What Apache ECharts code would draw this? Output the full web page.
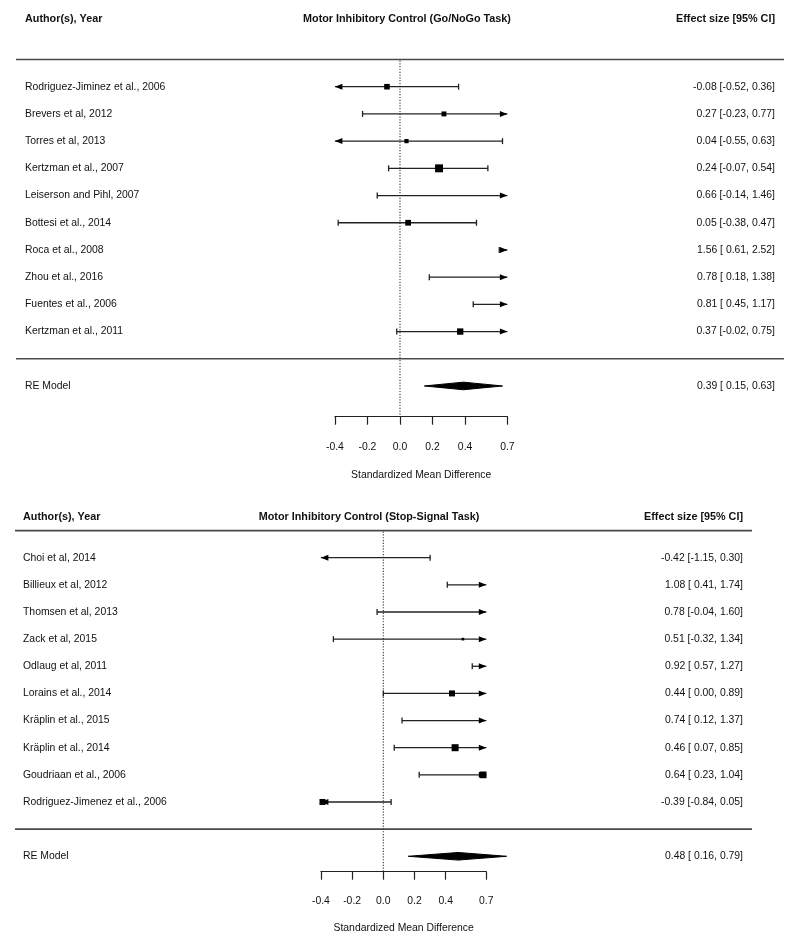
<!DOCTYPE html>
<html><head><meta charset="utf-8">
<script src="https://cdn.jsdelivr.net/npm/echarts@6/dist/echarts.min.js"></script>
<style>html,body{margin:0;padding:0;background:#fff}#c{width:800px;height:946px}</style>
</head><body><div id="c"></div>
<script>
// ---------- DATA ----------
// Panel 1: Go/NoGo Task
const goTitle = 'Motor Inhibitory Control (Go/NoGo Task)';
const goStudies = ['Rodriguez-Jiminez et al., 2006','Brevers et al, 2012','Torres et al, 2013','Kertzman et al., 2007','Leiserson and Pihl, 2007','Bottesi et al., 2014','Roca et al., 2008','Zhou et al., 2016','Fuentes et al., 2006','Kertzman et al., 2011'];
const goEst   = [-0.08, 0.27, 0.04, 0.24, 0.66, 0.05, 1.56, 0.78, 0.81, 0.37];
const goLower = [-0.52,-0.23,-0.55,-0.07,-0.14,-0.38, 0.61, 0.18, 0.45,-0.02];
const goUpper = [ 0.36, 0.77, 0.63, 0.54, 1.46, 0.47, 2.52, 1.38, 1.17, 0.75];
const goRE = [0.39, 0.15, 0.63];

// Panel 2: Stop-Signal Task
const ssTitle = 'Motor Inhibitory Control (Stop-Signal Task)';
const ssStudies = ['Choi et al, 2014','Billieux et al, 2012','Thomsen et al, 2013','Zack et al, 2015','Odlaug et al, 2011','Lorains et al., 2014','Kräplin et al., 2015','Kräplin et al., 2014','Goudriaan et al., 2006','Rodriguez-Jimenez et al., 2006'];
const ssEst   = [-0.42, 1.08, 0.78, 0.51, 0.92, 0.44, 0.74, 0.46, 0.64,-0.39];
const ssLower = [-1.15, 0.41,-0.04,-0.32, 0.57, 0.00, 0.12, 0.07, 0.23,-0.84];
const ssUpper = [ 0.30, 1.74, 1.60, 1.34, 1.27, 0.89, 1.37, 0.85, 1.04, 0.05];
const ssRE = [0.48, 0.16, 0.79];

// Axis
const axisMin = -0.4, axisMax = 0.66;
const tickValues = [-0.4, -0.2, 0, 0.2, 0.4, 0.66];
const tickLabels = ['-0.4', '-0.2', '0.0', '0.2', '0.4', '0.7'];
const xLabel = 'Standardized Mean Difference';
const headLeft = 'Author(s), Year';
const headRight = 'Effect size [95% CI]';
const reLabel = 'RE Model';

// ---------- STYLE / LAYOUT ----------
const FONT_FAMILY = '"Liberation Sans", Arial, sans-serif';
const FONT = '10.4px ' + FONT_FAMILY;
const BFONT = 'bold 10.8px ' + FONT_FAMILY;
const TXT = '#111';
const LINE = '#222';
const LW = 1.3;
const SQ = 5.3;

const panels = [
  {studies: goStudies, est: goEst, lo: goLower, hi: goUpper, re: goRE, title: goTitle,
   grid: {left: 334.9, width: 172.5, top: 18.7, height: 398}, yMin: -2.13, yMax: 12.5, headerRow: 12.5,
   labelX: 25, valueX: 775, lineX1: 16, lineX2: 784, titleX: 407, labelMargin: 25, nameGap: 53},
  {studies: ssStudies, est: ssEst, lo: ssLower, hi: ssUpper, re: ssRE, title: ssTitle,
   grid: {left: 320.9, width: 165.4, top: 517, height: 354.7}, yMin: -1.568, yMax: 11.5, headerRow: 11.5,
   labelX: 23, valueX: 743, lineX1: 15, lineX2: 752, titleX: 369, labelMargin: 24, nameGap: 51}
];

function boxSizes(lo, hi) {
  // metafor-style: weight ~ 1/SE, rescaled to cex 0.5..1.5
  const w = lo.map((l, i) => 3.92 / (hi[i] - l));
  const mn = Math.min(...w), mx = Math.max(...w);
  return w.map(v => (v - mn) / (mx - mn) + 0.5);
}
function fmtCI(e, l, u) {
  const f = v => (v < 0 ? '' : ' ') + v.toFixed(2);
  return e.toFixed(2) + ' [' + f(l) + ', ' + u.toFixed(2) + ']';
}
function txt(text, x, y, align, font) {
  return {type: 'text', silent: true, style: {text, x, y, align, verticalAlign: 'middle', font: font || FONT, fill: TXT}};
}

const option = {
  animation: false,
  backgroundColor: '#fff',
  grid: [], xAxis: [], yAxis: [], series: []
};

panels.forEach((p, gi) => {
  const n = p.studies.length;
  const sizes = boxSizes(p.lo, p.hi);
  option.grid.push(Object.assign({outerBoundsMode: 'none', containLabel: false}, p.grid));
  option.xAxis.push({
    gridIndex: gi, type: 'value', min: axisMin, max: axisMax,
    axisLine: {show: true, onZero: false, lineStyle: {color: LINE, width: 1.2}},
    axisTick: {show: true, length: 8, customValues: tickValues, lineStyle: {color: LINE, width: 1.2}},
    axisLabel: {show: true, customValues: tickValues, margin: p.labelMargin, fontSize: 10.4, fontFamily: FONT_FAMILY, color: TXT,
      formatter: v => { let bi = 0; tickValues.forEach((t, i) => { if (Math.abs(t - v) < Math.abs(tickValues[bi] - v)) bi = i; }); return tickLabels[bi]; }},
    splitLine: {show: false},
    name: xLabel, nameLocation: 'middle', nameGap: p.nameGap,
    nameTextStyle: {fontSize: 10.4, fontFamily: FONT_FAMILY, color: TXT}
  });
  option.yAxis.push({gridIndex: gi, type: 'value', min: p.yMin, max: p.yMax, show: false});

  // frame: header texts, separator lines, zero reference line
  option.series.push({
    type: 'custom', xAxisIndex: gi, yAxisIndex: gi, clip: false, silent: true,
    data: [[0, 0]],
    renderItem: (params, api) => {
      const yHead = api.coord([0, p.headerRow])[1];
      const yTop = api.coord([0, n + 1])[1];
      const yBot = api.coord([0, 0])[1];
      const yAx = api.coord([0, p.yMin])[1];
      const x0 = api.coord([0, 0])[0];
      return {type: 'group', children: [
        txt(headLeft, p.labelX, yHead, 'left', BFONT),
        txt(p.title, p.titleX, yHead, 'center', BFONT),
        txt(headRight, p.valueX, yHead, 'right', BFONT),
        {type: 'line', shape: {x1: p.lineX1, y1: yTop, x2: p.lineX2, y2: yTop}, style: {stroke: '#4a4a4a', lineWidth: 1.7}},
        {type: 'line', shape: {x1: p.lineX1, y1: yBot, x2: p.lineX2, y2: yBot}, style: {stroke: '#4a4a4a', lineWidth: 1.7}},
        {type: 'line', shape: {x1: x0, y1: yTop + 1, x2: x0, y2: yAx}, style: {stroke: '#333', lineWidth: 1.1, lineDash: [1.2, 1.6]}}
      ]};
    }
  });

  // study rows
  option.series.push({
    type: 'custom', xAxisIndex: gi, yAxisIndex: gi, clip: false, silent: true,
    encode: {x: [0, 1, 2], y: 3},
    data: p.studies.map((s, i) => [p.est[i], p.lo[i], p.hi[i], n - i, i]),
    renderItem: (params, api) => {
      const est = api.value(0), lo = api.value(1), hi = api.value(2), row = api.value(3), idx = api.value(4);
      const y = api.coord([0, row])[1];
      const x1 = api.coord([Math.max(lo, axisMin), row])[0];
      const x2 = api.coord([Math.min(hi, axisMax), row])[0];
      const ch = [];
      ch.push({type: 'line', shape: {x1, y1: y, x2, y2: y}, style: {stroke: LINE, lineWidth: LW}});
      if (lo < axisMin) ch.push({type: 'polygon', shape: {points: [[x1, y], [x1 + 7.5, y - 3], [x1 + 7.5, y + 3]]}, style: {fill: '#000'}});
      else ch.push({type: 'line', shape: {x1, y1: y - 3, x2: x1, y2: y + 3}, style: {stroke: LINE, lineWidth: LW}});
      if (hi > axisMax) ch.push({type: 'polygon', shape: {points: [[x2, y], [x2 - 7.5, y - 3], [x2 - 7.5, y + 3]]}, style: {fill: '#000'}});
      else ch.push({type: 'line', shape: {x1: x2, y1: y - 3, x2: x2, y2: y + 3}, style: {stroke: LINE, lineWidth: LW}});
      if (est >= axisMin && est < axisMax) {
        const xe = api.coord([est, row])[0];
        const s = sizes[idx] * SQ;
        ch.push({type: 'rect', shape: {x: xe - s / 2, y: y - s / 2, width: s, height: s}, style: {fill: '#000'}});
      }
      ch.push(txt(p.studies[idx], p.labelX, y, 'left'));
      ch.push(txt(fmtCI(est, lo, hi), p.valueX, y, 'right'));
      return {type: 'group', children: ch};
    }
  });

  // summary diamond
  option.series.push({
    type: 'custom', xAxisIndex: gi, yAxisIndex: gi, clip: false, silent: true,
    encode: {x: [0, 1, 2], y: 3},
    data: [[p.re[0], p.re[1], p.re[2], -1]],
    renderItem: (params, api) => {
      const est = api.value(0), lo = api.value(1), hi = api.value(2), row = api.value(3);
      const y = api.coord([0, row])[1];
      const xe = api.coord([est, row])[0], xl = api.coord([lo, row])[0], xu = api.coord([hi, row])[0];
      const h = 3.8;
      return {type: 'group', children: [
        {type: 'polygon', shape: {points: [[xl, y], [xe, y - h], [xu, y], [xe, y + h]]}, style: {fill: '#000', stroke: '#000', lineWidth: 1}},
        txt(reLabel, p.labelX, y, 'left'),
        txt(fmtCI(est, lo, hi), p.valueX, y, 'right')
      ]};
    }
  });
});

const chart = echarts.init(document.getElementById('c'), null, {renderer: 'canvas'});
chart.setOption(option);
</script>
</body></html>
